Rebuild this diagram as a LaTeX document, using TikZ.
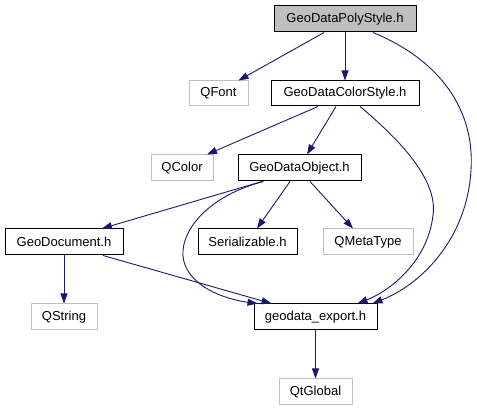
\documentclass[tikz,border=0pt]{standalone}
\usepackage{fontspec}
\setmainfont{Liberation Sans}
\usetikzlibrary{arrows.meta}
\definecolor{edgecol}{HTML}{191970}
\definecolor{extgray}{HTML}{BFBFBF}
\tikzset{
  x=1pt, y=-1pt,
  box/.style={draw=black, line width=1pt, inner sep=0pt, font=\fontsize{13}{15}\selectfont, minimum height=26pt},
  extbox/.style={box, draw=extgray},
  edge/.style={draw=edgecol, line width=0.9pt, -{Triangle[length=10pt, width=7pt]}},
}
\begin{document}
\begin{tikzpicture}
\useasboundingbox (0,0) rectangle (477,411);
\node[box, fill=extgray, minimum width=142pt] (poly) at (345,19) {GeoDataPolyStyle.h};
\node[extbox, minimum width=59pt, minimum height=25pt] (qfont) at (218.5,93.5) {QFont};
\node[box, minimum width=148pt, minimum height=25pt] (color) at (345,93.5) {GeoDataColorStyle.h};
\node[extbox, minimum width=62pt] (qcolor) at (182,168) {QColor};
\node[box, minimum width=123pt] (object) at (299.5,168) {GeoDataObject.h};
\node[box, minimum width=118pt] (document) at (64,242) {GeoDocument.h};
\node[box, minimum width=99pt] (serial) at (247.5,242) {Serializable.h};
\node[extbox, minimum width=90pt] (qmeta) at (368,242) {QMetaType};
\node[extbox, minimum width=66pt] (qstring) at (64,317) {QString};
\node[box, minimum width=123pt] (export) at (315.5,317) {geodata\_export.h};
\node[extbox, minimum width=73pt] (qtglobal) at (315.5,392) {QtGlobal};

\draw[edge] ([xshift=-21pt]poly.south) -- ([xshift=20pt]qfont.north);
\draw[edge] (poly.south) -- (color.north);
\draw[edge] ([xshift=28pt]poly.south) .. controls (440,60) and (475,110) .. (471,170)
  .. controls (467,240) and (420,285) .. ([xshift=57pt]export.north);
\draw[edge] ([xshift=-27pt]color.south) -- ([xshift=25pt]qcolor.north);
\draw[edge] ([xshift=-9pt]color.south) -- ([xshift=7.5pt]object.north);
\draw[edge] ([xshift=15pt]color.south) .. controls (400,140) and (438,180) .. (433,215)
  .. controls (428,260) and (392,290) .. ([xshift=42pt]export.north);
\draw[edge] ([xshift=-37.5pt]object.south) -- ([xshift=38pt]document.north);
\draw[edge] ([xshift=-9.5pt]object.south) -- ([xshift=9.5pt]serial.north);
\draw[edge] ([xshift=10.5pt]object.south) -- ([xshift=-15pt]qmeta.north);
\draw[edge] ([xshift=-36pt]object.south) .. controls (200,198) and (175,240) .. (185,265)
  .. controls (195,290) and (230,300) .. ([xshift=-58pt]export.north);
\draw[edge] (document.south) -- (qstring.north);
\draw[edge] ([xshift=39pt]document.south) -- ([xshift=-44pt]export.north);
\draw[edge] (export.south) -- (qtglobal.north);
\end{tikzpicture}
\end{document}
